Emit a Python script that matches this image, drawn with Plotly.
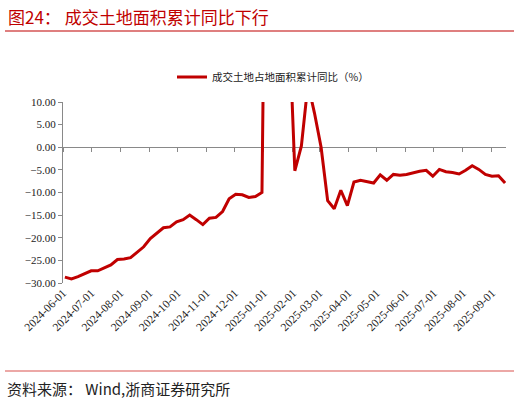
import pandas as pd
import plotly.graph_objects as go

# ---- data ----
dates = pd.date_range("2024-06-03", periods=68, freq="7D").strftime("%Y-%m-%d").tolist()
values = [
    -28.7, -29.1, -28.6, -28.0, -27.3, -27.3, -26.7, -26.0, -24.8, -24.7,
    -24.4, -23.3, -22.0, -20.2, -19.0, -17.8, -17.6, -16.5, -16.0, -15.0,
    -16.0, -17.1, -15.7, -15.5, -14.2, -11.4, -10.4, -10.5, -11.1, -10.9,
    -10.0, 120.0, 80.0, 50.0, 32.0, -5.2, 0.3, 14.0, 7.5, 0.0,
    -11.8, -13.6, -9.5, -12.9, -7.7, -7.3, -7.6, -7.9, -6.1, -7.3,
    -6.0, -6.2, -6.0, -5.6, -5.3, -5.1, -6.4, -4.9, -5.4, -5.6,
    -5.9, -5.1, -4.1, -4.9, -6.0, -6.4, -6.3, -7.9,
]
series_name = "成交土地占地面积累计同比（%）"
title_text = "图24：\u00a0成交土地面积累计同比下行"
source_text = "资料来源：\u00a0Wind,浙商证券研究所"
x_range = ["2024-06-01", "2025-09-16"]
y_range = [-30, 10]

RED = "#C00000"
AXIS = "#898989"

fig = go.Figure()
fig.add_trace(go.Scatter(
    x=dates, y=values, mode="lines", name=series_name,
    line=dict(color=RED, width=3),
))

# body margin is removed in the page (post_script), so figure = page
W, H = 520, 403
ml, mr, mt, mb = 63, 14, 102, 120
pw = W - ml - mr
ph = H - mt - mb

def px(xp):  # page x -> paper fraction
    return (xp - ml) / pw

def py(yp):  # page y -> paper fraction
    return (H - mb - yp) / ph

fig.update_layout(
    width=W, height=H,
    margin=dict(l=ml, r=mr, t=mt, b=mb),
    paper_bgcolor="white", plot_bgcolor="white",
    showlegend=True,
    legend=dict(
        orientation="h", x=px(172), y=py(77), xanchor="left", yanchor="middle",
        font=dict(family="Noto Sans CJK SC", size=10.5, color="#222"),
        bgcolor="rgba(0,0,0,0)",
    ),
    xaxis=dict(
        type="date", range=x_range, tick0="2024-06-01", dtick="M1",
        tickformat="%Y-%m-%d", tickangle=-45, showgrid=False, showline=False,
        ticks="", zeroline=False,
        tickfont=dict(family="Liberation Serif", size=11.5, color="#222"),
    ),
    xaxis2=dict(
        type="date", range=x_range, tick0="2024-06-01", dtick="M1",
        overlaying="x", matches="x", anchor="free",
        position=(0 - y_range[0]) / (y_range[1] - y_range[0]),
        showticklabels=False, showgrid=False, showline=True,
        linecolor=AXIS, linewidth=1, ticks="outside", ticklen=4,
        tickcolor=AXIS, layer="below traces",
    ),
    yaxis=dict(
        range=y_range, dtick=5, tick0=0, tickformat=".2f",
        showgrid=False, zeroline=False, showline=True, linecolor=AXIS,
        linewidth=1, ticks="outside", ticklen=4, tickcolor=AXIS,
        tickfont=dict(family="Liberation Serif", size=11, color="#222"),
    ),
)

# invisible helper trace so xaxis2 is drawn
fig.add_trace(go.Scatter(x=[dates[0]], y=[values[0]], xaxis="x2", mode="lines",
                         showlegend=False, hoverinfo="skip",
                         line=dict(color="rgba(0,0,0,0)")))

fig.add_annotation(
    text=title_text, xref="paper", yref="paper", x=px(6), y=py(16),
    xanchor="left", yanchor="middle", showarrow=False,
    font=dict(family="Noto Sans CJK SC", size=17, color=RED),
)
fig.add_shape(type="line", xref="paper", yref="paper",
              x0=px(5), x1=px(514), y0=py(31), y1=py(31),
              line=dict(color=RED, width=1.2))
fig.add_shape(type="line", xref="paper", yref="paper",
              x0=px(5), x1=px(514), y0=py(371), y1=py(371),
              line=dict(color="#D9534F", width=1.2))
fig.add_annotation(
    text=source_text, xref="paper", yref="paper", x=px(5), y=py(388),
    xanchor="left", yanchor="middle", showarrow=False,
    font=dict(family="Noto Sans CJK SC", size=15, color="#222"),
)

fig.write_html(
    "out.html",
    config={"displayModeBar": False},
    post_script="document.body.style.margin='0';document.body.style.overflow='hidden';",
)
